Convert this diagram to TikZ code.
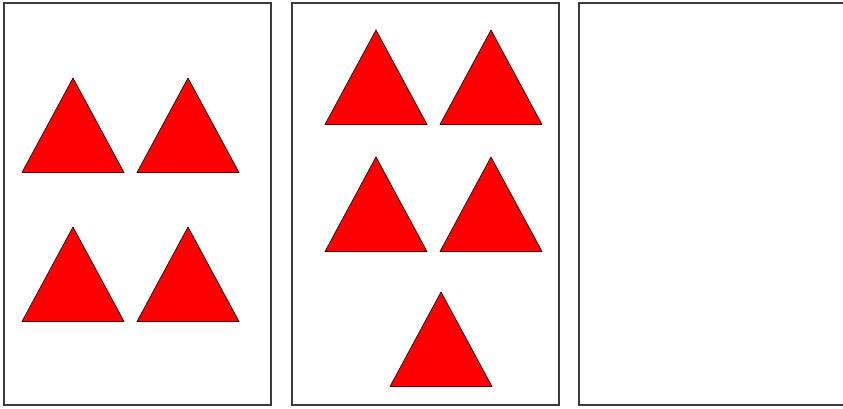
\documentclass[tikz,border=0pt]{standalone}
\usepackage{tikz}
\usetikzlibrary{calc}
\definecolor{trired}{RGB}{255,0,0}
\definecolor{framegray}{RGB}{60,60,60}
\tikzset{
  tri/.style={fill=trired,draw=black!85!red,line width=0.6pt,line join=round},
  panel/.style={draw=framegray,line width=1pt}
}

\begin{document}
\begin{tikzpicture}[x=0.03cm,y=-0.03cm]
  \useasboundingbox (0,0) rectangle (843,408);
  \begin{scope}
    \draw[panel] (4,3) rectangle (271,405);
    \foreach \x/\y in {73/78,188/78,73/227,188/227}
      \draw[tri] (\x,\y) -- ++(51,94.5) -- ++(-102,0) -- cycle;
  \end{scope}
  \begin{scope}
    \draw[panel] (292,3) rectangle (559,405);
    \foreach \x/\y in {376/30,491/30,376/157,491/157,441/292}
      \draw[tri] (\x,\y) -- ++(51,94.5) -- ++(-102,0) -- cycle;
  \end{scope}
  \draw[panel] (843,3) -- (579,3) -- (579,405) -- (843,405);
\end{tikzpicture}
\end{document}
